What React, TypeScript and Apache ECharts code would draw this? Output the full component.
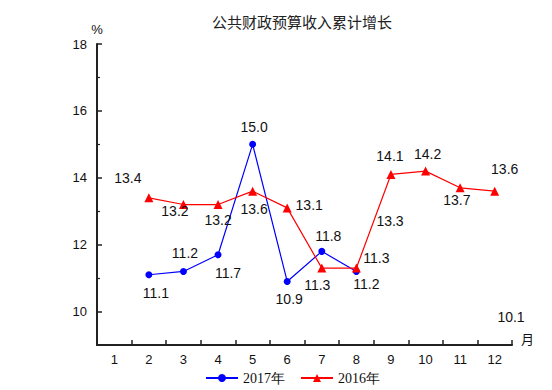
import React, { useEffect, useRef } from "react";
import * as echarts from "echarts";

const months = ["1", "2", "3", "4", "5", "6", "7", "8", "9", "10", "11", "12"];
const values2017: (number | null)[] = [null, 11.1, 11.2, 11.7, 15.0, 10.9, 11.8, 11.2, null, null, null, null];
const values2016: (number | null)[] = [null, 13.4, 13.2, 13.2, 13.6, 13.1, 11.3, 11.3, 14.1, 14.2, 13.7, 13.6];
const yMajorTicks = [10, 12, 14, 16, 18];
const yMinorTicks = [11, 13, 15, 17];
const strayLabels = ["13.3", "10.1"];

// label offsets (style only)
const offsets2017: number[][] = [[0, 0], [7, 18], [1.5, -18], [10, 18], [1.5, -17], [2, 18], [6.5, -15], [10, 13], [0, 0], [0, 0], [0, 0], [0, 0]];
const offsets2016: number[][] = [[0, 0], [-21, -20], [-8.5, 6], [0, 15], [1.5, 17.6], [22, -3], [-4.5, 16.7], [20, -10], [-1, -18], [2, -17], [-3.3, 12.4], [10, -22]];

function buildData(vals: (number | null)[], offs: number[][]) {
  return vals.map((v, i) =>
    v == null ? null : { value: v, label: { offset: offs[i] } }
  );
}

export default function App() {
  const ref = useRef<HTMLDivElement>(null);
  useEffect(() => {
    if (!ref.current) return;
    const chart = echarts.init(ref.current, null, { renderer: "svg" });
    const labelStyle = {
      show: true,
      position: "inside" as const,
      fontSize: 14,
      color: "#111",
      fontFamily: "Liberation Sans, Arial, sans-serif",
      formatter: (p: any) => Number(p.value).toFixed(1),
    };
    chart.setOption({
      animation: false,
      backgroundColor: "#fff",
      title: {
        text: "公共财政预算收入累计增长",
        left: 207,
        top: 9,
        textStyle: {
          fontSize: 15,
          fontWeight: "normal",
          color: "#222",
          fontFamily: "Noto Sans CJK SC, sans-serif",
        },
      },
      legend: {
        left: 200,
        top: 366,
        itemWidth: 32,
        itemHeight: 10,
        itemGap: 15,
        textStyle: { fontSize: 14, color: "#111", fontFamily: "Liberation Serif, Times New Roman, serif" },
        data: ["2017年", "2016年"],
      },
      grid: { left: 97, right: 40, top: 44, bottom: 45 },
      xAxis: {
        type: "category",
        data: months,
        boundaryGap: true,
        name: "月",
        nameLocation: "end",
        nameGap: 9,
        nameTextStyle: { fontSize: 13, color: "#111", verticalAlign: "bottom", fontFamily: "Noto Sans CJK SC, sans-serif" },
        axisLine: { lineStyle: { color: "#222", width: 2 } },
        axisTick: { show: true, inside: true, length: 5, lineStyle: { color: "#222", width: 1.5 } },
        axisLabel: { fontSize: 13, color: "#111", margin: 8, fontFamily: "Liberation Sans, Arial, sans-serif" },
        splitLine: { show: false },
      },
      yAxis: [
        {
          type: "value",
          min: 9,
          max: 18,
          name: "%",
          nameLocation: "end",
          nameGap: 8,
          nameTextStyle: { fontSize: 13, color: "#111", align: "center", fontFamily: "Liberation Sans, Arial, sans-serif" },
          axisLine: { show: true, lineStyle: { color: "#222", width: 2 } },
          axisTick: { show: true, inside: true, length: 5, customValues: yMajorTicks, lineStyle: { color: "#222", width: 1.5 } },
          axisLabel: { fontSize: 13, color: "#111", margin: 10, customValues: yMajorTicks, fontFamily: "Liberation Sans, Arial, sans-serif" },
          splitLine: { show: false },
        },
        {
          type: "value",
          min: 9,
          max: 18,
          position: "left",
          axisLine: { show: false },
          axisTick: { show: true, inside: true, length: 3, customValues: yMinorTicks, lineStyle: { color: "#222", width: 1.2 } },
          axisLabel: { show: false, customValues: yMinorTicks },
          splitLine: { show: false },
        },
      ],
      series: [
        {
          name: "2017年",
          type: "line",
          data: buildData(values2017, offsets2017),
          symbol: "circle",
          symbolSize: 7,
          itemStyle: { color: "#0000ff" },
          lineStyle: { color: "#0000ff", width: 1.2 },
          label: labelStyle,
          z: 3,
        },
        {
          name: "2016年",
          type: "line",
          data: buildData(values2016, offsets2016),
          symbol: "triangle",
          symbolSize: 9,
          itemStyle: { color: "#ff0000" },
          lineStyle: { color: "#ff0000", width: 1.2 },
          label: labelStyle,
          z: 4,
        },
      ],
      graphic: [
        {
          type: "text",
          x: 390,
          y: 221,
          style: { text: strayLabels[0], fontSize: 14, fill: "#111", align: "center", verticalAlign: "middle", fontFamily: "Liberation Sans, Arial, sans-serif" },
        },
        {
          type: "text",
          x: 511,
          y: 317,
          style: { text: strayLabels[1], fontSize: 14, fill: "#111", align: "center", verticalAlign: "middle", fontFamily: "Liberation Sans, Arial, sans-serif" },
        },
      ],
    });
    return () => chart.dispose();
  }, []);
  return <div ref={ref} style={{ position: "fixed", left: 0, top: 0, width: 552, height: 390 }} />;
}
